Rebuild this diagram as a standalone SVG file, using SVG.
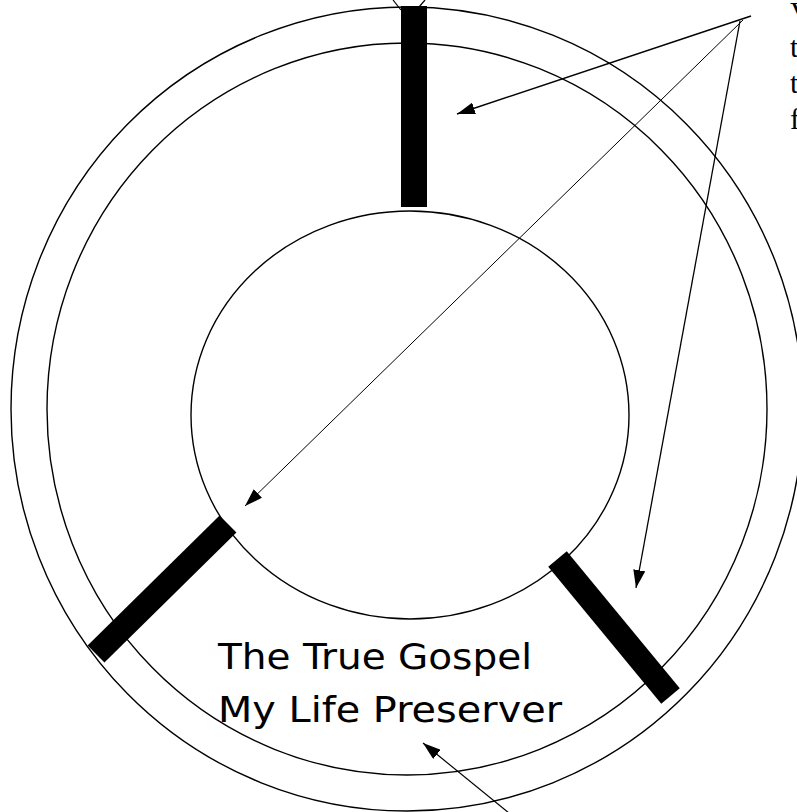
<svg xmlns="http://www.w3.org/2000/svg" width="797" height="812" viewBox="0 0 797 812">
  <style>
    .ring { fill: none; stroke: #000; stroke-width: 1.4; }
    .bar { stroke: #000; stroke-width: 24; stroke-linecap: butt; }
    .conn { fill: none; stroke: #000; }
    .label { font-family: "DejaVu Sans", "Liberation Sans", sans-serif; font-size: 36px; fill: #000; }
    .side { font-family: "Liberation Serif", "Times New Roman", serif; font-size: 30px; fill: #000; }
  </style>
  <defs>
    <marker id="ah" markerUnits="userSpaceOnUse" markerWidth="20" markerHeight="12" refX="18" refY="6" orient="auto">
      <path d="M0,0 L18,6 L0,12 z" fill="#000"/>
    </marker>
  </defs>
  <rect width="797" height="812" fill="#fff"/>

  <g id="preserver">
    <ellipse class="ring" cx="407" cy="409" rx="396" ry="402"/>
    <ellipse class="ring" cx="407" cy="409" rx="360" ry="366"/>
    <ellipse class="ring" cx="410" cy="415" rx="219" ry="204"/>
  </g>

  <g id="straps">
    <rect x="401" y="6" width="26" height="201" fill="#000"/>
    <line class="bar" x1="228" y1="524" x2="96" y2="654"/>
    <line class="bar" x1="557.5" y1="559" x2="670.5" y2="696"/>
  </g>

  <g id="label-main">
    <text class="label" x="218" y="669" textLength="314" lengthAdjust="spacingAndGlyphs">The True Gospel</text>
    <text class="label" x="218" y="722" textLength="344" lengthAdjust="spacingAndGlyphs">My Life Preserver</text>
  </g>

  <g id="label-side">
    <text class="side" x="790" y="22">V</text>
    <text class="side" x="790" y="57">t</text>
    <text class="side" x="790" y="93">t</text>
    <text class="side" x="790" y="129">f</text>
  </g>

  <g id="connectors">
    <line class="conn" stroke-width="1.5" x1="751" y1="16" x2="457" y2="114" marker-end="url(#ah)"/>
    <line class="conn" stroke-width="1" x1="743" y1="20" x2="245" y2="506" marker-end="url(#ah)"/>
    <line class="conn" stroke-width="1.3" x1="740" y1="21" x2="636" y2="588" marker-end="url(#ah)"/>
    <line class="conn" stroke-width="1.2" x1="520" y1="822" x2="423" y2="743" marker-end="url(#ah)"/>
    <line class="conn" stroke-width="1.2" x1="393" y1="0" x2="401" y2="10"/>
    <line class="conn" stroke-width="1.2" x1="425" y1="0" x2="419" y2="7"/>
  </g>
</svg>
